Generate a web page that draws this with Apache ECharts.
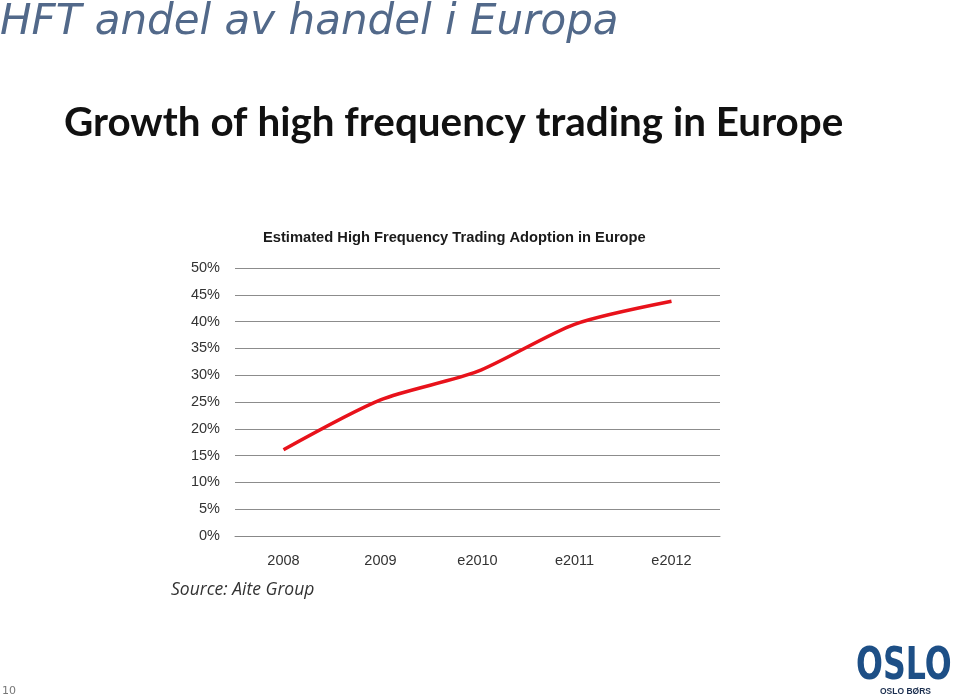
<!DOCTYPE html>
<html>
<head>
<meta charset="utf-8">
<script src="https://cdn.jsdelivr.net/npm/echarts@6/dist/echarts.min.js"></script>
<style>html,body{margin:0;padding:0;background:#fff}#c{width:959px;height:698px}</style>
</head>
<body>
<div id="c"></div>
<script>
const categories = ['2008', '2009', 'e2010', 'e2011', 'e2012'];
const hftShare = [16.1, 25.4, 30.7, 39.5, 43.8];
const yTicks = [0, 5, 10, 15, 20, 25, 30, 35, 40, 45, 50];

const chart = echarts.init(document.getElementById('c'));
chart.setOption({
  backgroundColor: '#ffffff',
  animation: false,
  title: [
    { text: 'HFT andel av handel i Europa', left: 0, top: 2, padding: 0,
      textStyle: { fontFamily: 'DejaVu Sans', fontStyle: 'italic', fontWeight: 'normal', fontSize: 42, color: '#52698a' } },
    { text: 'Growth of high frequency trading in Europe', left: 64, top: 103, padding: 0,
      textStyle: { fontFamily: 'Lato', fontWeight: 'bold', fontSize: 40.4, color: '#111111' } },
    { text: 'Estimated High Frequency Trading Adoption in Europe', left: 263, top: 230, padding: 0,
      textStyle: { fontFamily: 'Liberation Sans', fontWeight: 'bold', fontSize: 14.7, color: '#1a1a1a' } },
    { text: 'Source: Aite Group', left: 171, top: 581, padding: 0,
      textStyle: { fontFamily: 'Open Sans', fontStyle: 'italic', fontWeight: 'normal', fontSize: 17.5, color: '#333333' } },
    { text: '10', left: 2, top: 686, padding: 0,
      textStyle: { fontFamily: 'DejaVu Sans', fontWeight: 'normal', fontSize: 11, color: '#777777' } }
  ],
  grid: { left: 235, right: 239, top: 268, bottom: 162 },
  xAxis: {
    type: 'category', data: categories, boundaryGap: true,
    axisLine: { lineStyle: { color: '#888888', width: 1 } },
    axisTick: { show: false },
    axisLabel: { fontFamily: 'Liberation Sans', fontSize: 14.5, color: '#333333', margin: 17 }
  },
  yAxis: {
    type: 'value', min: 0, max: 50, interval: 5,
    axisLine: { show: false }, axisTick: { show: false },
    axisLabel: { formatter: v => yTicks.includes(v) ? v + '%' : '', fontFamily: 'Liberation Sans', fontSize: 14.5, color: '#333333', margin: 15 },
    splitLine: { lineStyle: { color: '#8c8c8c', width: 1 } }
  },
  series: [{
    type: 'line', data: hftShare, smooth: 0.25, symbol: 'none',
    lineStyle: { color: '#e8121b', width: 3.5 }
  }],
  graphic: [
    { type: 'text', x: 856, y: 646, scaleX: 0.72,
      style: { text: 'OSLO', font: 'bold 44px "DejaVu Sans"', fill: '#1d4f86' } },
    { type: 'text', x: 880, y: 687,
      style: { text: 'OSLO BØRS', font: 'bold 8.5px "Liberation Sans"', fill: '#1c2f4f' } }
  ]
});
</script>
</body>
</html>
